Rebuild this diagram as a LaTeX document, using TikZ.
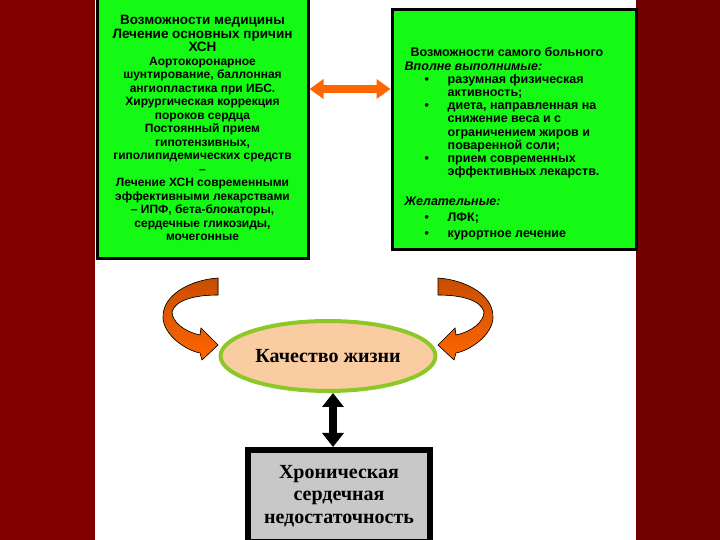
\documentclass[tikz,border=0pt]{standalone}
\usepackage{fontspec}
\setmainfont{Liberation Serif}
\setsansfont{Liberation Sans}
\usetikzlibrary{shapes,arrows.meta,positioning,calc}
\definecolor{bgred}{RGB}{128,0,0}
\definecolor{bgredr}{RGB}{112,0,0}
\definecolor{limegr}{RGB}{20,250,20}
\definecolor{peach}{RGB}{250,204,162}
\definecolor{lemon}{RGB}{140,200,40}
\definecolor{boxgray}{RGB}{200,200,200}
\definecolor{orng}{RGB}{255,102,0}
\definecolor{orngdark}{RGB}{200,78,0}
\newcommand{\bul}{\makebox[43pt][l]{\hspace{20pt}\textbullet}}
\newcommand{\ind}{\hspace*{43pt}}
\tikzset{
    greenbox/.style={rectangle,draw=black,line width=3pt,fill=limegr},
    qolell/.style={ellipse,draw=lemon,line width=4pt,fill=peach,
                   minimum width=200pt,minimum height=70pt,
                   font=\fontsize{20}{24}\selectfont\bfseries},
    graybox/.style={rectangle,draw=black,line width=6pt,fill=boxgray,
                    minimum width=182pt,minimum height=92pt,align=center,
                    font=\fontsize{20}{22.5}\selectfont\bfseries},
    orgarrow/.style={draw=orng,line width=8pt,
                     {Triangle[length=14pt,width=19pt]}-{Triangle[length=14pt,width=19pt]}},
    blkarrow/.style={draw=black,line width=8pt,
                     {Triangle[length=14pt,width=21pt]}-{Triangle[length=14pt,width=21pt]}},
    curl/.pic={
        \filldraw[draw=black,line width=0.6pt,top color=orngdark,bottom color=orng]
            (218,262) .. controls (190,260) and (162,245) .. (163,222)
            .. controls (164,205) and (185,190) .. (200,187)
            -- (202,180) -- (218,195) -- (201,212) -- (200,205)
            .. controls (185,208) and (172,218) .. (172,228)
            .. controls (175,240) and (195,245) .. (218,245) -- cycle;
    },
}
\begin{document}
\begin{tikzpicture}[x=1pt,y=1pt]
    \useasboundingbox (0,0) rectangle (720,540);

    % ---- фон ----
    \fill[bgred] (0,0) rectangle (95,540);
    \fill[bgredr] (636,0) rectangle (720,540);
    \fill[white] (95,0) rectangle (636,540);

    % ---- зелёные блоки ----
    \node[greenbox, minimum width=211pt, minimum height=262pt, align=center,
          font=\sffamily\bfseries\fontsize{12}{13.5}\selectfont] (med) at (202.5,412)
        {{\fontsize{13.5}{13.5}\selectfont Возможности медицины}\\
         {\fontsize{13.5}{13.5}\selectfont Лечение основных причин}\\
         {\fontsize{13.5}{13.5}\selectfont ХСН}\\
         Аортокоронарное\\
         шунтирование, баллонная\\
         ангиопластика при ИБС.\\
         Хирургическая коррекция\\
         пороков сердца\\
         Постоянный прием\\
         гипотензивных,\\
         гиполипидемических средств\\
         --\\
         Лечение ХСН современными\\
         эффективными лекарствами\\
         -- ИПФ, бета-блокаторы,\\
         сердечные гликозиды,\\
         мочегонные};
    \node[greenbox, minimum width=244pt, minimum height=240pt] (patient) at (514,410) {};
    \node[below right=39pt and 14pt of patient.north west, inner sep=0pt, align=left,
          font=\sffamily\bfseries\fontsize{12.5}{13.2}\selectfont] (patienttxt)
        {\hspace*{6pt}Возможности самого больного\\
         \textit{Вполне выполнимые:}\\
         \bul разумная физическая\\
         \ind активность;\\
         \bul диета, направленная на\\
         \ind снижение веса и с\\
         \ind ограничением жиров и\\
         \ind поваренной соли;\\
         \bul прием современных\\
         \ind эффективных лекарств.\\[17pt]
         \textit{Желательные:}\\[2pt]
         \bul ЛФК;\\[3pt]
         \bul курортное лечение};

    % ---- качество жизни и ХСН ----
    \node[qolell] (qol) at (328,184) {Качество жизни};
    \node[graybox] (chf) at (339,44)
        {Хроническая\\сердечная\\недостаточность};

    % ---- стрелки ----
    \draw[orgarrow] ([yshift=39pt]med.east) -- ([yshift=41pt]patient.west);
    \draw[blkarrow] ([xshift=5pt]qol.south) -- ([xshift=-6pt]chf.north);
    \pic at (0,0) {curl};
    \pic[xshift=656pt, xscale=-1] at (0,0) {curl};

\end{tikzpicture}
\end{document}
